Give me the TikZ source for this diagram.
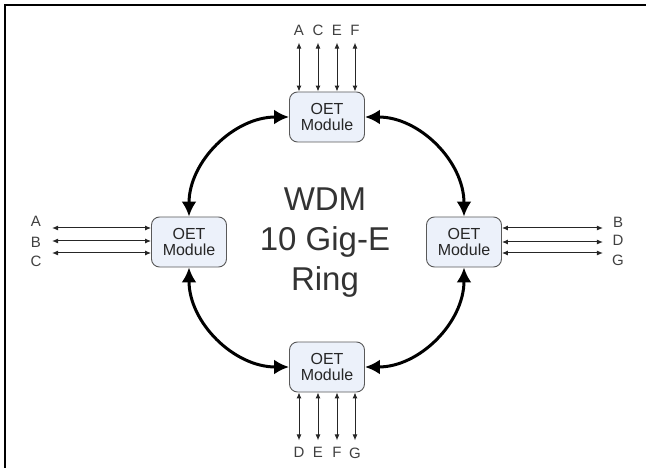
\documentclass[tikz,border=0pt]{standalone}
\usepackage{fontspec}
\setmainfont{Liberation Sans}
\usetikzlibrary{arrows.meta, positioning}

\begin{document}
\begin{tikzpicture}[x=1pt, y=-1pt,
    module/.style={draw=black!65, fill={rgb,255:red,236;green,241;blue,250},
        rounded corners=8pt, minimum width=75pt, minimum height=50pt,
        line width=0.9pt, align=center, inner sep=0pt, text=black!85,
        font=\fontsize{16}{16.5}\selectfont},
    ring/.style={line width=3pt,
        {Latex[length=15pt,width=15pt]}-{Latex[length=15pt,width=15pt]}},
    io/.style={line width=1pt, black!85,
        {Latex[length=6pt,width=5pt]}-{Latex[length=6pt,width=5pt]}},
    lbl/.style={font=\fontsize{15}{15}\selectfont, text=black!75, inner sep=0pt}]

    \useasboundingbox (0,0) rectangle (646,468);
    \draw[line width=2pt] (5,468) -- (5,5) -- (646,5);

    % the four modules on the ring
    \node[module] (top) at (327,117) {OET\\Module};
    \node[module] (left) at (189,242) {OET\\Module};
    \node[module] (right) at (464,242) {OET\\Module};
    \node[module] (bottom) at (327,367) {OET\\Module};

    \node[align=center, text=black!80, font=\fontsize{33}{40}\selectfont]
        (wdm) at (325,243) {WDM\\10 Gig-E\\Ring};

    \draw (top.west) edge[ring, out=180, in=90] (left.north)
          (top.east) edge[ring, out=0, in=90] (right.north)
          (left.south) edge[ring, out=-90, in=180] (bottom.west)
          (bottom.east) edge[ring, out=0, in=-90] (right.south);

    % tributary ports
    \foreach \l/\dx [count=\i] in {A/-28,C/-9,E/10,F/28} {
        \coordinate (tin\i) at ([xshift=\dx pt]top.north);
        \coordinate (tout\i) at ([xshift=\dx pt, yshift=49pt]top.north);
        \node[lbl, above=7pt of tout\i] (t\l) {\l};
        \draw[io] (tin\i) -- (tout\i);
    }
    \foreach \l/\dx [count=\i] in {D/-28,E/-9,F/10,G/28} {
        \coordinate (bin\i) at ([xshift=\dx pt]bottom.south);
        \coordinate (bout\i) at ([xshift=\dx pt, yshift=-48pt]bottom.south);
        \node[lbl, below=7pt of bout\i] (b\l) {\l};
        \draw[io] (bin\i) -- (bout\i);
    }
    \foreach \dy [count=\i] in {14,1,-11} {
        \coordinate (lin\i) at ([yshift=\dy pt]left.west);
        \coordinate (lout\i) at ([xshift=-99pt, yshift=\dy pt]left.west);
        \draw[io] (lin\i) -- (lout\i);
    }
    \foreach \dy [count=\i] in {14,0,-11} {
        \coordinate (rin\i) at ([yshift=\dy pt]right.east);
        \coordinate (rout\i) at ([xshift=101pt, yshift=\dy pt]right.east);
        \draw[io] (rin\i) -- (rout\i);
    }
    \node[lbl] (lA) at (36,221) {A};
    \node[lbl] (lB) at (36,242) {B};
    \node[lbl] (lC) at (36,261) {C};
    \node[lbl] (rB) at (618,222) {B};
    \node[lbl] (rD) at (618,240) {D};
    \node[lbl] (rG) at (618,260) {G};
\end{tikzpicture}
\end{document}
